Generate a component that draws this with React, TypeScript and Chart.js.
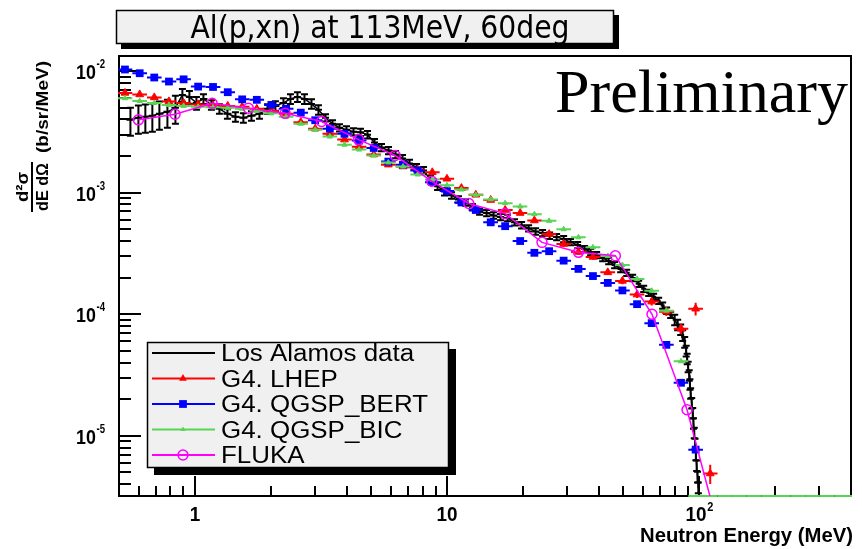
import React, { useEffect, useRef } from 'react';
import { Chart, registerables } from 'chart.js';

Chart.register(...registerables);

// ---------------- axis ranges and tick labels ----------------
const X_MIN = 0.5;
const X_MAX = 400;
const Y_MIN = 3.2e-6;
const Y_MAX = 0.0133;
const X_MAJOR_TICKS = [1, 10, 100];
const X_TICK_BASE = ['1', '10', '10'];
const X_TICK_EXP = ['', '', '2'];
const Y_MAJOR_TICKS = [1e-2, 1e-3, 1e-4, 1e-5];
const Y_TICK_BASE = ['10', '10', '10', '10'];
const Y_TICK_EXP = ['-2', '-3', '-4', '-5'];

const TITLE = 'Al(p,xn) at 113MeV, 60deg';
const X_TITLE = 'Neutron Energy (MeV)';
const Y_TITLE_NUM = 'd\u00B2\u03C3';
const Y_TITLE_DEN = 'dE d\u03A9';
const Y_TITLE_UNIT = '(b/sr/MeV)';
const WATERMARK = 'Preliminary';
const SERIES_NAMES = ['Los Alamos data', 'G4. LHEP', 'G4. QGSP_BERT', 'G4. QGSP_BIC', 'FLUKA'];

// ---------------- data ----------------
// Los Alamos measurement (MeV, b/sr/MeV, relative error)
const LA_ENERGY = [
  0.555, 0.597, 0.636, 0.678, 0.723, 0.778, 0.837, 0.892, 0.951, 1.014,
  1.081, 1.163, 1.251, 1.346, 1.448, 1.557, 1.676, 1.803, 1.94, 2.086,
  2.245, 2.393, 2.551, 2.72, 2.9, 3.09, 3.296, 3.513, 3.745, 3.993,
  4.256, 4.537, 4.837, 5.157, 5.497, 5.86, 6.248, 6.66, 7.1, 7.568,
  8.068, 8.6, 9.17, 9.77, 10.42, 11.1, 11.84, 12.62, 13.46, 14.35,
  15.29, 16.3, 17.38, 18.53, 19.75, 21.06, 22.45, 23.93, 25.51, 27.2,
  29.0, 30.9, 32.96, 35.13, 37.11, 39.2, 41.41, 43.75, 46.2, 48.8,
  51.57, 54.47, 57.54, 60.24, 63.04, 65.98, 69.07, 71.64, 74.3, 77.07,
  79.95, 82.17, 84.45, 86.0, 87.6, 88.8, 89.6, 90.4, 91.3, 91.9,
  92.5, 93.4, 94.3, 94.9, 95.6, 96.3, 97.0, 97.7, 98.5, 99.2,
];
const LA_VALUE = [
  3.97e-3, 4.13e-3, 4.21e-3, 4.29e-3, 4.45e-3, 4.62e-3, 4.98e-3, 6.36e-3, 6.13e-3, 5.47e-3,
  5.9e-3, 5.27e-3, 4.89e-3, 4.45e-3, 4.21e-3, 4.13e-3, 4.29e-3, 4.45e-3, 4.89e-3, 5.17e-3,
  5.47e-3, 5.9e-3, 6.13e-3, 5.9e-3, 5.37e-3, 4.8e-3, 4.13e-3, 3.69e-3, 3.42e-3, 3.29e-3,
  3.17e-3, 3.14e-3, 3.0e-3, 2.58e-3, 2.35e-3, 2.22e-3, 2.06e-3, 1.91e-3, 1.74e-3, 1.61e-3,
  1.52e-3, 1.28e-3, 1.13e-3, 1.02e-3, 9.5e-4, 8.8e-4, 8.3e-4, 7.6e-4, 7.0e-4, 6.8e-4,
  6.5e-4, 6.3e-4, 6.2e-4, 5.7e-4, 5.4e-4, 5.1e-4, 4.8e-4, 4.65e-4, 4.43e-4, 4.31e-4,
  4.15e-4, 3.92e-4, 3.71e-4, 3.44e-4, 3.25e-4, 3.07e-4, 2.9e-4, 2.74e-4, 2.54e-4, 2.36e-4,
  2.19e-4, 1.99e-4, 1.78e-4, 1.62e-4, 1.5e-4, 1.39e-4, 1.29e-4, 1.18e-4, 1.07e-4, 9.9e-5,
  9.0e-5, 8.2e-5, 7.5e-5, 6.7e-5, 5.9e-5, 5.0e-5, 4.3e-5, 3.7e-5, 3.15e-5, 2.66e-5,
  2.24e-5, 1.86e-5, 1.54e-5, 1.27e-5, 1.06e-5, 8.6e-6, 7.0e-6, 5.7e-6, 4.6e-6, 3.75e-6,
];
const LA_ERR = [
  0.26, 0.26, 0.26, 0.26, 0.26, 0.26, 0.26, 0.12, 0.12, 0.12,
  0.09, 0.09, 0.09, 0.09, 0.09, 0.09, 0.09, 0.09, 0.09, 0.09,
  0.09, 0.09, 0.09, 0.09, 0.09, 0.09, 0.07, 0.07, 0.07, 0.07,
  0.07, 0.07, 0.07, 0.07, 0.07, 0.07, 0.07, 0.07, 0.07, 0.07,
  0.07, 0.07, 0.07, 0.07, 0.06, 0.06, 0.06, 0.06, 0.06, 0.06,
  0.06, 0.06, 0.06, 0.06, 0.06, 0.06, 0.06, 0.06, 0.06, 0.06,
  0.06, 0.06, 0.06, 0.06, 0.06, 0.06, 0.06, 0.06, 0.06, 0.06,
  0.06, 0.06, 0.06, 0.06, 0.06, 0.06, 0.06, 0.06, 0.06, 0.06,
  0.1, 0.1, 0.1, 0.1, 0.1, 0.1, 0.1, 0.1, 0.1, 0.1,
  0.1, 0.1, 0.1, 0.1, 0.1, 0.1, 0.1, 0.1, 0.1, 0.1,
];

// Geant4 histogram bin centres (MeV)
const G4_ENERGY = [
  0.528, 0.604, 0.690, 0.789, 0.902, 1.03, 1.18, 1.35, 1.54, 1.76,
  2.01, 2.30, 2.63, 3.00, 3.43, 3.92, 4.48, 5.12, 5.85, 6.69,
  7.65, 8.74, 9.99, 11.4, 13.0, 14.9, 17.0, 19.5, 22.2, 25.4,
  29.0, 33.2, 37.9, 43.4, 49.6, 56.7, 64.8, 74.1, 84.7, 96.8,
  110.6, 126.4, 144.4, 165.0, 188.6, 215.5, 246.2, 281.3, 321.5, 367.3,
  419.7,
];
const LHEP = [
  6.61e-3, 6.42e-3, 6.07e-3, 5.63e-3, 5.47e-3, 5.32e-3, 5.22e-3, 5.17e-3, 5.08e-3, 4.89e-3,
  4.71e-3, 4.45e-3, 3.8e-3, 3.36e-3, 3.05e-3, 2.73e-3, 2.39e-3, 2.06e-3, 1.70e-3, 1.64e-3,
  1.55e-3, 1.47e-3, 1.30e-3, 1.09e-3, 9.6e-4, 8.7e-4, 7.2e-4, 6.8e-4, 5.9e-4, 4.56e-4,
  3.78e-4, 3.25e-4, 2.96e-4, 2.21e-4, 1.88e-4, 1.45e-4, 1.27e-4, 1.05e-4, 7.6e-5, 1.11e-4,
  4.9e-6,
];
const LHEP_ERR = [
  0.03, 0.03, 0.03, 0.03, 0.03, 0.03, 0.03, 0.03, 0.03, 0.03,
  0.03, 0.03, 0.03, 0.03, 0.03, 0.03, 0.03, 0.03, 0.03, 0.03,
  0.03, 0.03, 0.03, 0.03, 0.03, 0.03, 0.04, 0.04, 0.04, 0.04,
  0.05, 0.05, 0.05, 0.05, 0.06, 0.06, 0.07, 0.08, 0.1, 0.12,
  0.18,
];
const QGSP_BERT = [
  1.03e-2, 9.6e-3, 8.85e-3, 8.2e-3, 8.55e-3, 7.45e-3, 7.4e-3, 6.7e-3, 5.85e-3, 5.8e-3,
  5.27e-3, 4.9e-3, 4.55e-3, 3.94e-3, 3.36e-3, 3.05e-3, 2.68e-3, 2.33e-3, 1.80e-3, 1.70e-3,
  1.52e-3, 1.22e-3, 1.03e-3, 8.3e-4, 7.2e-4, 5.7e-4, 5.3e-4, 4.0e-4, 3.2e-4, 3.3e-4,
  2.76e-4, 2.36e-4, 2.06e-4, 1.81e-4, 1.57e-4, 1.21e-4, 8.45e-5, 5.6e-5, 2.73e-5, 7.7e-6,
];
const QGSP_BIC = [
  5.98e-3, 5.68e-3, 5.47e-3, 5.27e-3, 5.17e-3, 5.08e-3, 5.03e-3, 4.98e-3, 4.89e-3, 4.71e-3,
  4.49e-3, 4.21e-3, 3.69e-3, 3.29e-3, 2.89e-3, 2.48e-3, 2.26e-3, 2.02e-3, 1.77e-3, 1.64e-3,
  1.41e-3, 1.28e-3, 1.15e-3, 1.06e-3, 9.6e-4, 8.8e-4, 8.2e-4, 7.7e-4, 6.65e-4, 5.86e-4,
  5.0e-4, 4.29e-4, 3.55e-4, 3.01e-4, 2.54e-4, 1.95e-4, 1.56e-4, 1.07e-4, 4.1e-5, 0,
  0, 0, 0, 0, 0, 0, 0, 0, 0, 0,
  0,
];
// FLUKA
const FLUKA_ENERGY = [0.597, 0.834, 1.17, 1.63, 2.28, 3.18, 4.46, 6.23, 8.70, 12.2, 17.0, 23.8, 33.2, 46.5, 65.0, 89.5, 125];
const FLUKA = [3.97e-3, 4.41e-3, 5.44e-3, 4.95e-3, 4.49e-3, 3.85e-3, 2.73e-3, 2.02e-3, 1.24e-3, 8.14e-4, 6.73e-4, 3.9e-4, 3.23e-4, 3.03e-4, 1.0e-4, 1.64e-5, 1.2e-6];

// ---------------- styling ----------------
const COLORS = ['#000000', '#ff0000', '#0000ff', '#59d454', '#ff00ff'];
const NARROW = '"Liberation Sans Narrow", "DejaVu Sans Condensed", "Liberation Sans", sans-serif';
const SANS = '"Liberation Sans", Arial, sans-serif';

function toPoints(xs: number[], ys: number[]) {
  return ys.map((v, i) => ({ x: xs[i], y: v > 0 ? v : Y_MIN, empty: !(v > 0) }));
}

function logTicks(min: number, max: number) {
  const out: { v: number; major: boolean }[] = [];
  for (let k = Math.floor(Math.log10(min)); k <= Math.ceil(Math.log10(max)); k++) {
    for (let m = 1; m <= 9; m++) {
      const v = m * Math.pow(10, k);
      if (v > min * 1.0001 && v < max * 0.9999) out.push({ v, major: m === 1 });
    }
  }
  return out;
}

function fitText(ctx: CanvasRenderingContext2D, text: string, x: number, y: number, font: string, width: number, align: 'left' | 'center' | 'right') {
  ctx.font = font;
  ctx.textAlign = 'left';
  ctx.textBaseline = 'alphabetic';
  const w = ctx.measureText(text).width;
  const sx = width / w;
  ctx.save();
  ctx.translate(x, y);
  ctx.scale(sx, 1);
  const off = align === 'left' ? 0 : align === 'center' ? -w / 2 : -w;
  ctx.fillText(text, off, 0);
  ctx.restore();
}

function textWidth(ctx: CanvasRenderingContext2D, text: string, font: string) {
  ctx.font = font;
  return ctx.measureText(text).width;
}

function drawMarker(ctx: CanvasRenderingContext2D, style: string, x: number, y: number, r: number, color: string) {
  ctx.save();
  ctx.fillStyle = color;
  ctx.strokeStyle = color;
  ctx.lineWidth = 1.5;
  ctx.beginPath();
  if (style === 'rect') {
    const s = r * Math.SQRT1_2;
    ctx.rect(x - s, y - s, 2 * s, 2 * s);
    ctx.fill();
  } else if (style === 'triangle') {
    ctx.moveTo(x, y - r);
    ctx.lineTo(x + r * 0.866, y + r * 0.5);
    ctx.lineTo(x - r * 0.866, y + r * 0.5);
    ctx.closePath();
    ctx.fill();
  } else if (style === 'circle') {
    ctx.arc(x, y, r, 0, Math.PI * 2);
    ctx.stroke();
  }
  ctx.restore();
}

// frame and inward ticks, drawn beneath the data like ROOT
const framePlugin = {
  id: 'rootFrame',
  beforeDatasetsDraw(chart: any) {
    const { ctx, chartArea: a, scales } = chart;
    const xs = scales.x;
    const ys = scales.y;
    ctx.save();
    ctx.strokeStyle = '#000';
    ctx.lineWidth = 2;
    ctx.strokeRect(a.left, a.top, a.right - a.left, a.bottom - a.top);
    for (const t of logTicks(X_MIN, X_MAX)) {
      const px = Math.round(xs.getPixelForValue(t.v));
      ctx.beginPath();
      ctx.moveTo(px, a.bottom);
      ctx.lineTo(px, a.bottom - (t.major ? 20 : 10));
      ctx.stroke();
    }
    for (const t of logTicks(Y_MIN, Y_MAX)) {
      const py = Math.round(ys.getPixelForValue(t.v));
      ctx.beginPath();
      ctx.moveTo(a.left, py);
      ctx.lineTo(a.left + (t.major ? 22 : 12), py);
      ctx.stroke();
    }
    ctx.restore();
  },
};

// horizontal bin bars and vertical error bars
const errorBarPlugin = {
  id: 'errorBars',
  beforeDatasetDraw(chart: any, args: any) {
    const ds: any = chart.data.datasets[args.index];
    if (!ds.errStyle) return;
    const { ctx, chartArea: a, scales } = chart;
    const xs = scales.x;
    const ys = scales.y;
    const pts = ds.data;
    const n = pts.length;
    ctx.save();
    ctx.beginPath();
    ctx.rect(a.left - 1, a.top, a.right - a.left + 2, a.bottom - a.top + 1.5);
    ctx.clip();
    ctx.strokeStyle = ds.errStyle.color;
    ctx.lineWidth = ds.errStyle.width;
    for (let i = 0; i < n; i++) {
      const p = pts[i];
      const prev = i > 0 ? pts[i - 1].x : (p.x * p.x) / pts[i + 1].x;
      const next = i < n - 1 ? pts[i + 1].x : (p.x * p.x) / pts[i - 1].x;
      const lo = Math.sqrt(prev * p.x);
      const hi = Math.sqrt(p.x * next);
      const py = ys.getPixelForValue(p.y);
      ctx.beginPath();
      ctx.moveTo(xs.getPixelForValue(lo), py);
      ctx.lineTo(xs.getPixelForValue(hi), py);
      ctx.stroke();
      const e = ds.errStyle.rel ? ds.errStyle.rel[i] : 0;
      if (e > 0 && !p.empty) {
        const px = xs.getPixelForValue(p.x);
        const y1 = ys.getPixelForValue(p.y * (1 + e));
        const y2 = ys.getPixelForValue(p.y * (1 - e));
        ctx.beginPath();
        ctx.moveTo(px, y1);
        ctx.lineTo(px, y2);
        const c = ds.errStyle.cap || 0;
        if (c > 0) {
          ctx.moveTo(px - c, y1);
          ctx.lineTo(px + c, y1);
          ctx.moveTo(px - c, y2);
          ctx.lineTo(px + c, y2);
        }
        ctx.stroke();
      }
    }
    ctx.restore();
  },
};

// title box, watermark, legend, axis labels
const decorPlugin = {
  id: 'rootDecor',
  afterDraw(chart: any) {
    const { ctx, scales } = chart;
    const xs = scales.x;
    const ys = scales.y;
    ctx.save();
    ctx.fillStyle = '#000';

    // title pave
    ctx.fillRect(121, 15, 498, 34);
    ctx.fillStyle = '#f0f0f0';
    ctx.fillRect(116, 10, 498, 34);
    ctx.strokeStyle = '#000';
    ctx.lineWidth = 1.5;
    ctx.strokeRect(116.5, 10.5, 497, 33);
    ctx.fillStyle = '#000';
    fitText(ctx, TITLE, 380, 38, `32px ${NARROW}`, 379, 'center');

    // watermark
    fitText(ctx, WATERMARK, 848, 112, '62px "Liberation Serif", "Times New Roman", serif', 293, 'right');

    // x tick labels
    const xBase = `bold 21px ${SANS}`;
    const xExp = `bold 13px ${SANS}`;
    X_MAJOR_TICKS.forEach((v, i) => {
      const px = xs.getPixelForValue(v);
      const wb = textWidth(ctx, X_TICK_BASE[i], xBase) * 0.9;
      const we = X_TICK_EXP[i] ? textWidth(ctx, X_TICK_EXP[i], xExp) * 0.85 : 0;
      const left = px - (wb + we) / 2;
      fitText(ctx, X_TICK_BASE[i], left, 521, xBase, wb, 'left');
      if (X_TICK_EXP[i]) fitText(ctx, X_TICK_EXP[i], left + wb + 0.5, 511, xExp, we, 'left');
    });
    // y tick labels
    const yBase = `bold 21px ${SANS}`;
    const yExp = `bold 12px ${SANS}`;
    Y_MAJOR_TICKS.forEach((v, i) => {
      const py = ys.getPixelForValue(v);
      const we = textWidth(ctx, Y_TICK_EXP[i], yExp) * 0.8;
      const wb = textWidth(ctx, Y_TICK_BASE[i], yBase) * 0.85;
      const right = 105;
      fitText(ctx, Y_TICK_EXP[i], right, py - 3, yExp, we, 'right');
      fitText(ctx, Y_TICK_BASE[i], right - we - 0.5, py + 8, yBase, wb, 'right');
    });

    // x title
    fitText(ctx, X_TITLE, 853, 542, `bold 21px ${SANS}`, 213, 'right');

    // y title (rotated): rotated coords (rx, ry) -> screen (ry, -rx)
    ctx.save();
    ctx.rotate(-Math.PI / 2);
    fitText(ctx, Y_TITLE_UNIT, -153, 48, `bold 16px ${SANS}`, 92, 'left');
    fitText(ctx, Y_TITLE_NUM, -187, 28, `bold 16px ${SANS}`, 30, 'center');
    fitText(ctx, Y_TITLE_DEN, -187, 48, `bold 16px ${SANS}`, 48, 'center');
    ctx.strokeStyle = '#000';
    ctx.lineWidth = 2;
    ctx.beginPath();
    ctx.moveTo(-212, 32);
    ctx.lineTo(-162, 32);
    ctx.stroke();
    ctx.restore();

    // legend pave
    const L = { x: 147, y: 342, w: 302, h: 126, sh: 7 };
    ctx.fillStyle = '#000';
    ctx.fillRect(L.x + L.sh, L.y + L.sh, L.w, L.h);
    ctx.fillStyle = '#f0f0f0';
    ctx.fillRect(L.x, L.y, L.w, L.h);
    ctx.strokeStyle = '#000';
    ctx.lineWidth = 1.5;
    ctx.strokeRect(L.x + 0.5, L.y + 0.5, L.w - 1, L.h - 1);
    const lf = `23px ${SANS}`;
    const sx = 207 / textWidth(ctx, 'G4. QGSP_BERT', lf);
    chart.data.datasets.forEach((ds: any, i: number) => {
      const ry = 353 + i * 25.5;
      ctx.strokeStyle = ds.legendColor;
      ctx.lineWidth = 2;
      ctx.beginPath();
      ctx.moveTo(152, ry);
      ctx.lineTo(215, ry);
      ctx.stroke();
      if (ds.legendMarker) drawMarker(ctx, ds.legendMarker, 183, ry, ds.legendMarkerSize, ds.legendColor);
      ctx.fillStyle = '#000';
      const w = textWidth(ctx, ds.label, lf);
      fitText(ctx, ds.label, 221, ry + 8, lf, w * sx, 'left');
    });
    ctx.restore();
  },
};

export default function App() {
  const canvasRef = useRef<HTMLCanvasElement | null>(null);

  useEffect(() => {
    const canvas = canvasRef.current;
    if (!canvas) return;
    const laPts = toPoints(LA_ENERGY, LA_VALUE);
    const lhepPts = toPoints(G4_ENERGY, LHEP);
    const bertPts = toPoints(G4_ENERGY, QGSP_BERT);
    const bicPts = toPoints(G4_ENERGY, QGSP_BIC);
    const flukaPts = toPoints(FLUKA_ENERGY, FLUKA);

    const chart = new Chart(canvas, {
      type: 'scatter',
      data: {
        datasets: [
          {
            label: SERIES_NAMES[0],
            data: laPts,
            order: 5,
            showLine: true,
            borderColor: COLORS[0],
            borderWidth: 1.5,
            pointRadius: 0,
            errStyle: { color: COLORS[0], width: 2, rel: LA_ERR, cap: 3.5 },
            legendColor: COLORS[0],
          } as any,
          {
            label: SERIES_NAMES[1],
            data: lhepPts,
            order: 4,
            pointStyle: 'triangle',
            pointRadius: 4.5,
            backgroundColor: COLORS[1],
            borderColor: COLORS[1],
            borderWidth: 1,
            errStyle: { color: COLORS[1], width: 2, rel: LHEP_ERR, cap: 0 },
            legendColor: COLORS[1],
            legendMarker: 'triangle',
            legendMarkerSize: 4.5,
          } as any,
          {
            label: SERIES_NAMES[2],
            data: bertPts,
            order: 3,
            pointStyle: 'rect',
            pointRadius: 5.5,
            backgroundColor: COLORS[2],
            borderColor: COLORS[2],
            borderWidth: 0,
            errStyle: { color: COLORS[2], width: 2 },
            legendColor: COLORS[2],
            legendMarker: 'rect',
            legendMarkerSize: 5.5,
          } as any,
          {
            label: SERIES_NAMES[3],
            data: bicPts,
            order: 2,
            pointStyle: 'triangle',
            pointRadius: bicPts.map((p) => (p.empty ? 0 : 3)),
            backgroundColor: COLORS[3],
            borderColor: COLORS[3],
            borderWidth: 1,
            errStyle: { color: COLORS[3], width: 2 },
            legendColor: COLORS[3],
            legendMarker: 'triangle',
            legendMarkerSize: 3,
          } as any,
          {
            label: SERIES_NAMES[4],
            data: flukaPts,
            order: 1,
            showLine: true,
            borderColor: COLORS[4],
            borderWidth: 1.5,
            pointStyle: 'circle',
            pointRadius: 5,
            pointBackgroundColor: 'rgba(0,0,0,0)',
            pointBorderColor: COLORS[4],
            pointBorderWidth: 1.5,
            legendColor: COLORS[4],
            legendMarker: 'circle',
            legendMarkerSize: 5,
          } as any,
        ],
      },
      options: {
        animation: false,
        responsive: false,
        maintainAspectRatio: false,
        layout: { padding: { left: 119, right: 11, top: 56, bottom: 53 } },
        scales: {
          x: { type: 'logarithmic', min: X_MIN, max: X_MAX, display: false },
          y: { type: 'logarithmic', min: Y_MIN, max: Y_MAX, display: false },
        },
        plugins: {
          legend: { display: false },
          tooltip: { enabled: false },
        },
      },
      plugins: [framePlugin, errorBarPlugin, decorPlugin],
    });
    return () => chart.destroy();
  }, []);

  return (
    <div style={{ position: 'absolute', left: 0, top: 0, width: 862, height: 549, background: '#fff' }}>
      <canvas ref={canvasRef} width={862} height={549} style={{ display: 'block' }} />
    </div>
  );
}
